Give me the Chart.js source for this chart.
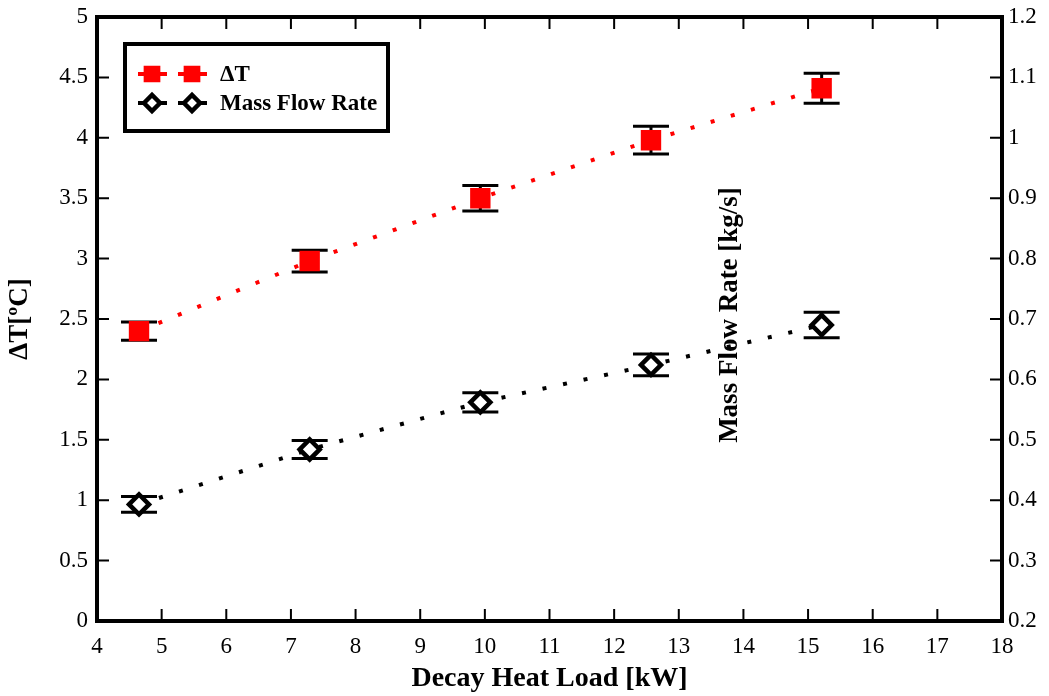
<!DOCTYPE html>
<html lang="en">
<head>
  <meta charset="UTF-8">
  <title>Decay Heat Load</title>
  <script src="https://cdn.jsdelivr.net/npm/chart.js"></script>
  <style>
    html, body { margin: 0; padding: 0; background: #fff; }
    #wrap { width: 1049px; height: 696px; }
  </style>
</head>
<body>
  <div id="wrap"><canvas id="heatChart" width="1049" height="696"></canvas></div>

  <script>
    // Données
    const heatLoad = [4.65, 7.29, 9.93, 12.57, 15.21];
    const deltaT = [2.40, 2.98, 3.50, 3.98, 4.41];
    const deltaTErr = [0.075, 0.09, 0.105, 0.115, 0.125];
    const massFlow = [0.393, 0.484, 0.562, 0.624, 0.690];
    const massFlowErr = [0.013, 0.015, 0.016, 0.018, 0.021];

    const serif = '"Liberation Serif", "DejaVu Serif", serif';

    // Barres d'erreur dessinées sous les marqueurs
    const errorBars = {
      id: 'errorBars',
      beforeDatasetsDraw(chart) {
        const ctx = chart.ctx;
        const xs = chart.scales.x;
        chart.data.datasets.forEach(ds => {
          const ys = chart.scales[ds.yAxisID];
          ctx.save();
          ctx.strokeStyle = '#000';
          ctx.lineWidth = 3;
          ds.data.forEach((p, i) => {
            const px = xs.getPixelForValue(p.x);
            const top = ys.getPixelForValue(p.y + ds.err[i]);
            const bot = ys.getPixelForValue(p.y - ds.err[i]);
            ctx.beginPath();
            ctx.moveTo(px, top); ctx.lineTo(px, bot);
            ctx.moveTo(px - 18, top); ctx.lineTo(px + 18, top);
            ctx.moveTo(px - 18, bot); ctx.lineTo(px + 18, bot);
            ctx.stroke();
          });
          ctx.restore();
        });
      }
    };

    // Cadre épais, graduations vers l'intérieur, légende et titre de droite
    const frame = {
      id: 'frame',
      afterDraw(chart) {
        const ctx = chart.ctx;
        const a = chart.chartArea;
        const xs = chart.scales.x, y1 = chart.scales.y, y2 = chart.scales.y2;
        ctx.save();
        ctx.strokeStyle = '#000';
        ctx.lineWidth = 2;
        ctx.beginPath();
        xs.ticks.forEach(t => {
          const px = xs.getPixelForValue(t.value);
          if (t.value <= xs.min || t.value >= xs.max) return;
          ctx.moveTo(px, a.bottom); ctx.lineTo(px, a.bottom - 12);
          ctx.moveTo(px, a.top); ctx.lineTo(px, a.top + 12);
        });
        y1.ticks.forEach(t => {
          if (t.value <= y1.min || t.value >= y1.max) return;
          const py = y1.getPixelForValue(t.value);
          ctx.moveTo(a.left, py); ctx.lineTo(a.left + 12, py);
        });
        y2.ticks.forEach(t => {
          if (t.value <= y2.min + 1e-9 || t.value >= y2.max - 1e-9) return;
          const py = y2.getPixelForValue(t.value);
          ctx.moveTo(a.right, py); ctx.lineTo(a.right - 12, py);
        });
        ctx.stroke();

        ctx.lineWidth = 4;
        ctx.strokeRect(a.left, a.top, a.right - a.left, a.bottom - a.top);

        // Légende
        ctx.fillStyle = '#fff';
        ctx.fillRect(125, 44, 263, 87);
        ctx.strokeRect(125, 44, 263, 87);
        const rows = [
          { y: 74, color: 'red', ds: chart.data.datasets[0] },
          { y: 103, color: '#000', ds: chart.data.datasets[1] }
        ];
        rows.forEach(r => {
          ctx.strokeStyle = r.color;
          ctx.lineWidth = 4;
          ctx.beginPath();
          ctx.moveTo(138, r.y); ctx.lineTo(167, r.y);
          ctx.moveTo(178, r.y); ctx.lineTo(207, r.y);
          ctx.stroke();
          [152, 192].forEach(mx => {
            ctx.fillStyle = r.ds.pointBackgroundColor;
            ctx.strokeStyle = r.ds.pointBorderColor;
            ctx.lineWidth = r.ds.pointBorderWidth;
            ctx.beginPath();
            Chart.helpers.drawPoint(ctx, {
              pointStyle: r.ds.pointStyle,
              radius: r.ds.pointRadius * 0.8,
              borderWidth: r.ds.pointBorderWidth
            }, mx, r.y);
          });
          ctx.fillStyle = '#000';
          ctx.font = 'bold 23px ' + serif;
          ctx.textBaseline = 'middle';
          ctx.fillText(r.ds.label, 220, r.y + 1);
        });

        // Titre de l'axe de droite, placé dans la zone du graphique
        ctx.translate(730, 315);
        ctx.rotate(-Math.PI / 2);
        ctx.textAlign = 'center';
        ctx.textBaseline = 'middle';
        ctx.font = 'bold 27px ' + serif;
        ctx.fillStyle = '#000';
        ctx.fillText('Mass Flow Rate [kg/s]', 0, 0);
        ctx.restore();
      }
    };

    const fmt = v => String(Number(v.toFixed(2)));
    const fitY = w => s => { s.width = w; s.paddingTop = 0; s.paddingBottom = 0; };

    const ctx = document.getElementById('heatChart').getContext('2d');
    new Chart(ctx, {
      type: 'line',
      data: {
        datasets: [{
          label: 'ΔT',
          data: heatLoad.map((x, i) => ({ x: x, y: deltaT[i] })),
          err: deltaTErr,
          yAxisID: 'y',
          borderColor: 'red',
          borderWidth: 4,
          borderDash: [4, 17],
          fill: false,
          pointStyle: 'rect',
          pointRadius: 13,
          pointBorderWidth: 2,
          pointBackgroundColor: 'red',
          pointBorderColor: 'red'
        }, {
          label: 'Mass Flow Rate',
          data: heatLoad.map((x, i) => ({ x: x, y: massFlow[i] })),
          err: massFlowErr,
          yAxisID: 'y2',
          borderColor: '#000',
          borderWidth: 4,
          borderDash: [4, 17],
          fill: false,
          pointStyle: 'rectRot',
          pointRadius: 10,
          pointBorderWidth: 4.5,
          pointBackgroundColor: '#fff',
          pointBorderColor: '#000'
        }]
      },
      options: {
        responsive: false,
        animation: false,
        layout: { padding: { top: 17, right: 0, left: 0, bottom: 0 } },
        plugins: { legend: { display: false }, tooltip: { enabled: false } },
        scales: {
          x: {
            type: 'linear', min: 4, max: 18,
            border: { display: false },
            grid: { display: false, drawTicks: false },
            ticks: { stepSize: 1, padding: 12, color: '#000', font: { family: serif, size: 23 } },
            title: { display: true, text: 'Decay Heat Load [kW]', color: '#000',
                     padding: { top: 0, bottom: 0 }, font: { family: serif, size: 28, weight: 'bold' } },
            afterFit: s => { s.height = 75; s.paddingLeft = 0; s.paddingRight = 0; }
          },
          y: {
            position: 'left', min: 0, max: 5,
            border: { display: false },
            grid: { display: false, drawTicks: false },
            ticks: { stepSize: 0.5, padding: 9, color: '#000', callback: fmt,
                     font: { family: serif, size: 23 } },
            title: { display: true, text: 'ΔT[ºC]', color: '#000',
                     padding: { top: 4, bottom: 0 }, font: { family: serif, size: 27, weight: 'bold' } },
            afterFit: fitY(97)
          },
          y2: {
            position: 'right', min: 0.2, max: 1.2,
            border: { display: false },
            grid: { display: false, drawTicks: false },
            ticks: { stepSize: 0.1, padding: 6, color: '#000', callback: fmt,
                     font: { family: serif, size: 23 } },
            afterFit: fitY(47)
          }
        }
      },
      plugins: [errorBars, frame]
    });
  </script>
</body>
</html>
